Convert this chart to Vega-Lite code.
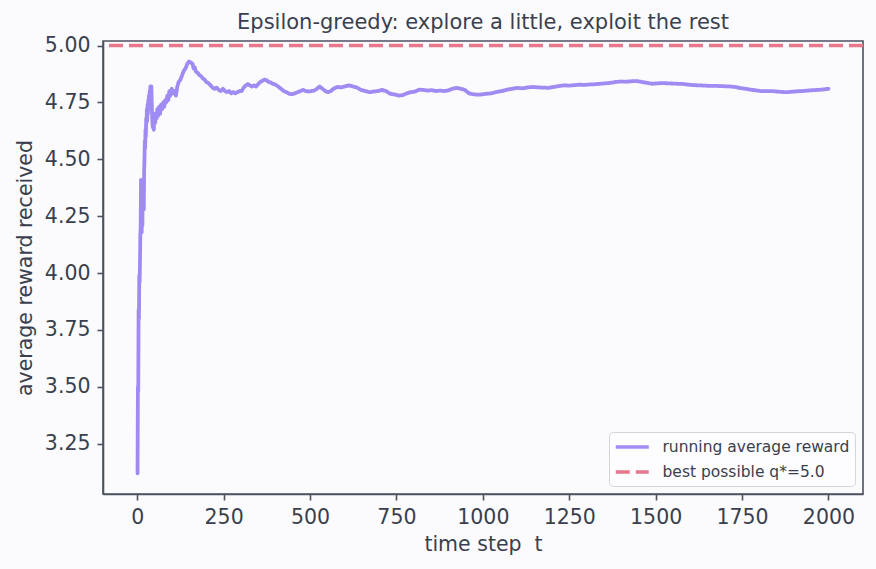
{
  "$schema": "https://vega.github.io/schema/vega-lite/v6.json",
  "width": 760,
  "height": 453,
  "autosize": {"type": "none"},
  "padding": {"left": 103, "top": 41, "right": 13, "bottom": 75},
  "background": "#fbfbfd",
  "title": {
    "text": "Epsilon-greedy: explore a little, exploit the rest",
    "frame": "group",
    "anchor": "middle",
    "fontSize": 21,
    "fontWeight": "normal",
    "color": "#3a3f4d",
    "offset": 3
  },
  "config": {
    "font": "DejaVu Sans",
    "view": {"stroke": "#4d5160", "strokeWidth": 1.6, "fill": "#fbfbfd"},
    "axis": {
      "grid": false,
      "domainColor": "#4d5160",
      "domainWidth": 1.6,
      "tickColor": "#4d5160",
      "tickWidth": 1.6,
      "tickSize": 6,
      "labelFontSize": 20.5,
      "labelColor": "#3a3f4d",
      "labelPadding": 7,
      "titleFontSize": 20.5,
      "titleColor": "#3a3f4d",
      "titleFontWeight": "normal"
    },
    "legend": {
      "orient": "bottom-right",
      "offset": 8,
      "symbolType": "M-1,0H3",
      "symbolSize": 272,
      "symbolStrokeWidth": 3.5,
      "labelFontSize": 15.5,
      "labelLimit": 400,
      "labelColor": "#3a3f4d",
      "labelOffset": 28.5,
      "padding": 5,
      "rowPadding": 6,
      "fillColor": "#fdfdff",
      "strokeColor": "#d4d4da",
      "cornerRadius": 4
    }
  },
  "datasets": {
    "running": [
      {"t": 1, "avg": 3.12}, {"t": 2, "avg": 3.5}, {"t": 3, "avg": 3.48}, {"t": 4, "avg": 3.84},
      {"t": 5, "avg": 3.8}, {"t": 6, "avg": 3.99}, {"t": 7, "avg": 3.96}, {"t": 8, "avg": 4.05},
      {"t": 9, "avg": 4.17}, {"t": 10, "avg": 4.2}, {"t": 11, "avg": 4.41}, {"t": 12, "avg": 4.25},
      {"t": 13, "avg": 4.18}, {"t": 14, "avg": 4.37}, {"t": 15, "avg": 4.21}, {"t": 16, "avg": 4.4},
      {"t": 17, "avg": 4.3}, {"t": 18, "avg": 4.38}, {"t": 19, "avg": 4.28}, {"t": 20, "avg": 4.45},
      {"t": 21, "avg": 4.5}, {"t": 22, "avg": 4.58}, {"t": 23, "avg": 4.55}, {"t": 24, "avg": 4.63},
      {"t": 25, "avg": 4.6}, {"t": 26, "avg": 4.68}, {"t": 27, "avg": 4.66}, {"t": 28, "avg": 4.72},
      {"t": 29, "avg": 4.67}, {"t": 30, "avg": 4.74}, {"t": 31, "avg": 4.7}, {"t": 32, "avg": 4.76},
      {"t": 33, "avg": 4.72}, {"t": 34, "avg": 4.78}, {"t": 35, "avg": 4.74}, {"t": 36, "avg": 4.8},
      {"t": 37, "avg": 4.76}, {"t": 38, "avg": 4.82}, {"t": 39, "avg": 4.78}, {"t": 40, "avg": 4.8},
      {"t": 41, "avg": 4.82}, {"t": 42, "avg": 4.75}, {"t": 43, "avg": 4.7}, {"t": 44, "avg": 4.66},
      {"t": 45, "avg": 4.64}, {"t": 46, "avg": 4.68}, {"t": 47, "avg": 4.65}, {"t": 48, "avg": 4.63},
      {"t": 49, "avg": 4.67}, {"t": 50, "avg": 4.7}, {"t": 52, "avg": 4.66}, {"t": 54, "avg": 4.7},
      {"t": 56, "avg": 4.68}, {"t": 58, "avg": 4.72}, {"t": 60, "avg": 4.69}, {"t": 63, "avg": 4.73},
      {"t": 66, "avg": 4.7}, {"t": 69, "avg": 4.74}, {"t": 72, "avg": 4.72}, {"t": 75, "avg": 4.75},
      {"t": 78, "avg": 4.73}, {"t": 81, "avg": 4.76}, {"t": 84, "avg": 4.75}, {"t": 87, "avg": 4.78},
      {"t": 90, "avg": 4.76}, {"t": 93, "avg": 4.8}, {"t": 96, "avg": 4.78}, {"t": 100, "avg": 4.81},
      {"t": 104, "avg": 4.79}, {"t": 108, "avg": 4.8}, {"t": 112, "avg": 4.78}, {"t": 116, "avg": 4.82},
      {"t": 120, "avg": 4.84}, {"t": 125, "avg": 4.85}, {"t": 130, "avg": 4.87}, {"t": 135, "avg": 4.89},
      {"t": 140, "avg": 4.9}, {"t": 145, "avg": 4.92}, {"t": 150, "avg": 4.93}, {"t": 155, "avg": 4.925},
      {"t": 160, "avg": 4.92}, {"t": 163, "avg": 4.9}, {"t": 166, "avg": 4.905}, {"t": 170, "avg": 4.885},
      {"t": 175, "avg": 4.88}, {"t": 180, "avg": 4.87}, {"t": 185, "avg": 4.865}, {"t": 190, "avg": 4.855},
      {"t": 195, "avg": 4.85}, {"t": 200, "avg": 4.84}, {"t": 206, "avg": 4.835}, {"t": 212, "avg": 4.825},
      {"t": 218, "avg": 4.815}, {"t": 224, "avg": 4.81}, {"t": 230, "avg": 4.815}, {"t": 236, "avg": 4.805},
      {"t": 242, "avg": 4.8}, {"t": 248, "avg": 4.81}, {"t": 254, "avg": 4.8}, {"t": 260, "avg": 4.795},
      {"t": 266, "avg": 4.8}, {"t": 272, "avg": 4.79}, {"t": 278, "avg": 4.795}, {"t": 284, "avg": 4.79},
      {"t": 290, "avg": 4.795}, {"t": 296, "avg": 4.8}, {"t": 302, "avg": 4.8}, {"t": 308, "avg": 4.815},
      {"t": 314, "avg": 4.825}, {"t": 320, "avg": 4.83}, {"t": 326, "avg": 4.825}, {"t": 332, "avg": 4.82},
      {"t": 338, "avg": 4.825}, {"t": 344, "avg": 4.82}, {"t": 350, "avg": 4.83}, {"t": 356, "avg": 4.84},
      {"t": 362, "avg": 4.845}, {"t": 368, "avg": 4.85}, {"t": 374, "avg": 4.848}, {"t": 380, "avg": 4.84},
      {"t": 386, "avg": 4.838}, {"t": 392, "avg": 4.832}, {"t": 400, "avg": 4.828}, {"t": 408, "avg": 4.82},
      {"t": 416, "avg": 4.81}, {"t": 424, "avg": 4.8}, {"t": 432, "avg": 4.795}, {"t": 440, "avg": 4.788},
      {"t": 448, "avg": 4.786}, {"t": 456, "avg": 4.79}, {"t": 464, "avg": 4.795}, {"t": 472, "avg": 4.8},
      {"t": 480, "avg": 4.805}, {"t": 488, "avg": 4.8}, {"t": 496, "avg": 4.798}, {"t": 504, "avg": 4.8},
      {"t": 512, "avg": 4.802}, {"t": 520, "avg": 4.81}, {"t": 528, "avg": 4.82}, {"t": 536, "avg": 4.81},
      {"t": 544, "avg": 4.8}, {"t": 552, "avg": 4.795}, {"t": 560, "avg": 4.8}, {"t": 570, "avg": 4.812},
      {"t": 580, "avg": 4.818}, {"t": 590, "avg": 4.816}, {"t": 600, "avg": 4.82}, {"t": 612, "avg": 4.825},
      {"t": 624, "avg": 4.82}, {"t": 636, "avg": 4.815}, {"t": 648, "avg": 4.805}, {"t": 660, "avg": 4.8},
      {"t": 672, "avg": 4.795}, {"t": 684, "avg": 4.798}, {"t": 696, "avg": 4.8}, {"t": 708, "avg": 4.805},
      {"t": 720, "avg": 4.8}, {"t": 732, "avg": 4.788}, {"t": 744, "avg": 4.785}, {"t": 756, "avg": 4.78},
      {"t": 768, "avg": 4.782}, {"t": 780, "avg": 4.79}, {"t": 792, "avg": 4.795}, {"t": 804, "avg": 4.798},
      {"t": 816, "avg": 4.806}, {"t": 828, "avg": 4.805}, {"t": 840, "avg": 4.802}, {"t": 852, "avg": 4.804},
      {"t": 864, "avg": 4.8}, {"t": 876, "avg": 4.802}, {"t": 888, "avg": 4.8}, {"t": 900, "avg": 4.803},
      {"t": 912, "avg": 4.81}, {"t": 924, "avg": 4.814}, {"t": 936, "avg": 4.81}, {"t": 948, "avg": 4.805},
      {"t": 960, "avg": 4.79}, {"t": 972, "avg": 4.786}, {"t": 984, "avg": 4.784}, {"t": 996, "avg": 4.785},
      {"t": 1010, "avg": 4.788}, {"t": 1025, "avg": 4.79}, {"t": 1040, "avg": 4.796}, {"t": 1055, "avg": 4.8},
      {"t": 1070, "avg": 4.806}, {"t": 1085, "avg": 4.81}, {"t": 1100, "avg": 4.814}, {"t": 1115, "avg": 4.812},
      {"t": 1130, "avg": 4.816}, {"t": 1145, "avg": 4.818}, {"t": 1160, "avg": 4.816}, {"t": 1175, "avg": 4.815},
      {"t": 1190, "avg": 4.814}, {"t": 1205, "avg": 4.818}, {"t": 1220, "avg": 4.822}, {"t": 1235, "avg": 4.825},
      {"t": 1250, "avg": 4.824}, {"t": 1265, "avg": 4.826}, {"t": 1280, "avg": 4.828}, {"t": 1295, "avg": 4.827},
      {"t": 1310, "avg": 4.829}, {"t": 1325, "avg": 4.83}, {"t": 1340, "avg": 4.832}, {"t": 1355, "avg": 4.834},
      {"t": 1370, "avg": 4.836}, {"t": 1385, "avg": 4.84}, {"t": 1400, "avg": 4.842}, {"t": 1415, "avg": 4.841},
      {"t": 1430, "avg": 4.843}, {"t": 1445, "avg": 4.844}, {"t": 1460, "avg": 4.84}, {"t": 1475, "avg": 4.836},
      {"t": 1490, "avg": 4.832}, {"t": 1505, "avg": 4.834}, {"t": 1520, "avg": 4.835}, {"t": 1535, "avg": 4.834},
      {"t": 1550, "avg": 4.833}, {"t": 1565, "avg": 4.832}, {"t": 1580, "avg": 4.831}, {"t": 1595, "avg": 4.828},
      {"t": 1610, "avg": 4.826}, {"t": 1625, "avg": 4.825}, {"t": 1640, "avg": 4.824}, {"t": 1655, "avg": 4.823},
      {"t": 1670, "avg": 4.823}, {"t": 1685, "avg": 4.822}, {"t": 1700, "avg": 4.821}, {"t": 1715, "avg": 4.82},
      {"t": 1730, "avg": 4.818}, {"t": 1745, "avg": 4.813}, {"t": 1760, "avg": 4.81}, {"t": 1775, "avg": 4.806},
      {"t": 1790, "avg": 4.803}, {"t": 1805, "avg": 4.8}, {"t": 1820, "avg": 4.8}, {"t": 1835, "avg": 4.8},
      {"t": 1850, "avg": 4.798}, {"t": 1865, "avg": 4.796}, {"t": 1880, "avg": 4.795}, {"t": 1895, "avg": 4.797},
      {"t": 1910, "avg": 4.799}, {"t": 1925, "avg": 4.8}, {"t": 1940, "avg": 4.802}, {"t": 1955, "avg": 4.804},
      {"t": 1970, "avg": 4.805}, {"t": 1985, "avg": 4.807}, {"t": 2000, "avg": 4.81}
    ],
    "best": [{"q": 5.0}]
  },
  "layer": [
    {
      "data": {"name": "running"},
      "mark": {"type": "line", "strokeWidth": 3.8, "strokeJoin": "round", "strokeCap": "round"},
      "encoding": {
        "x": {
          "field": "t",
          "type": "quantitative",
          "scale": {"domain": [-99, 2100], "nice": false, "zero": false},
          "axis": {"title": "time step\u00a0 t", "values": [0, 250, 500, 750, 1000, 1250, 1500, 1750, 2000], "format": "d", "titlePadding": 7}
        },
        "y": {
          "field": "avg",
          "type": "quantitative",
          "scale": {"domain": [3.029, 5.02], "nice": false, "zero": false},
          "axis": {"title": "average reward received", "values": [3.25, 3.5, 3.75, 4.0, 4.25, 4.5, 4.75, 5.0], "format": ".2f", "titlePadding": 9}
        },
        "color": {
          "datum": "running average reward",
          "type": "nominal",
          "scale": {"domain": ["running average reward", "best possible q*=5.0"], "range": ["#a08bf2", "#e8778b"]},
          "legend": {"title": null}
        },
        "strokeDash": {
          "datum": "running average reward",
          "type": "nominal",
          "scale": {"domain": ["running average reward", "best possible q*=5.0"], "range": [[1, 0], [14, 6]]},
          "legend": {"title": null}
        }
      }
    },
    {
      "data": {"name": "best"},
      "mark": {"type": "rule", "strokeWidth": 3.5},
      "encoding": {
        "y": {"field": "q", "type": "quantitative"},
        "color": {"datum": "best possible q*=5.0", "type": "nominal"},
        "strokeDash": {"datum": "best possible q*=5.0", "type": "nominal"}
      }
    }
  ]
}
